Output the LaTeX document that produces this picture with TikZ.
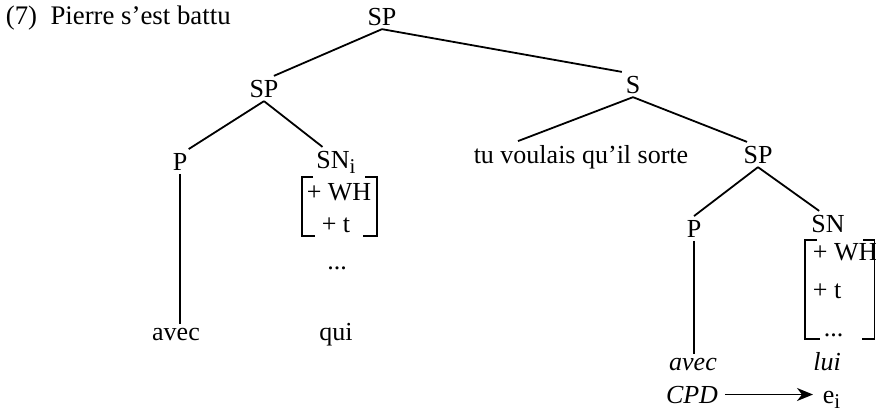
\documentclass[tikz,border=0pt]{standalone}
\usepackage{fontspec}
\setmainfont{Liberation Serif}
\usetikzlibrary{arrows.meta}
\newcommand{\lowsub}[1]{\raisebox{-5pt}{\fontsize{21}{21}\selectfont #1}}

\begin{document}
\begin{tikzpicture}[x=1pt,y=-1pt,line width=1.8pt,
    lbl/.style={inner sep=3pt,anchor=base,font=\fontsize{26}{31}\selectfont},
    it/.style={lbl,font=\fontsize{26}{31}\selectfont\itshape},
    brk/.style={line width=1.8pt}]
  \useasboundingbox (0,0) rectangle (876,415);
  \node[lbl,anchor=base west,font=\fontsize{26.8}{31}\selectfont] (title) at (2,24) {(7)\ \ Pierre s'est battu};
  % top of the tree
  \node[lbl] (sp0) at (382,25) {SP};
  \node[lbl] (sp1) at (264,97) {SP};
  \node[lbl] (s) at (633,93) {S};
  \draw (sp0.south) -- (sp1.52);
  \draw (sp0.south) -- (s.north west);
  % left branch
  \node[lbl] (p1) at (180,170) {P};
  \node[lbl] (sni) at (336,168) {SN\lowsub{i}};
  \draw (sp1.south) -- (p1.55);
  \draw (sp1.south) -- (sni.132);
  \node[lbl] (wh1) at (339,200) {+ WH};
  \node[lbl] (t1) at (336,232) {+ t};
  \draw[brk] (313,177) -- (302,177) -- (302,236) -- (315,236);
  \draw[brk] (365,177) -- (377,177) -- (377,236) -- (363,236);
  \node[lbl] (dots1) at (337,269) {...};
  \node[lbl] (avec1) at (176,340) {avec};
  \node[lbl] (qui) at (336,340) {qui};
  \draw (p1.south) -- (p1.south |- avec1.north);
  % right branch
  \node[lbl] (tu) at (581,163) {tu voulais qu'il sorte};
  \node[lbl] (sp2) at (758,163) {SP};
  \draw (s.south) -- (tu.166);
  \draw (s.south) -- (sp2.131);
  \node[lbl] (p2) at (694,237) {P};
  \node[lbl] (sn2) at (828,232) {SN};
  \draw (sp2.south) -- (p2.north);
  \draw (sp2.south) -- (sn2.125);
  \node[lbl,anchor=base west] (wh2) at (809,260) {+ WH};
  \node[lbl,anchor=base west] (t2) at (809,298) {+ t};
  \node[lbl,anchor=base west] (dots2) at (820,336) {...};
  \draw[brk] (817,240) -- (805,240) -- (805,339) -- (820,339);
  \draw[brk] (863,240) -- (874.5,240) -- (874.5,339) -- (862,339);
  \node[it] (avec2) at (693,370) {avec};
  \node[it] (lui) at (827,370) {lui};
  \draw (p2.south) -- (p2.south |- avec2.north);
  % the arrow under it
  \node[it] (cpd) at (692,403) {CPD};
  \node[lbl,anchor=base west] (ei) at (819,403) {e\lowsub{i}};
  \draw[-{Stealth[length=16pt,width=13pt,inset=5pt]},shorten <=3pt,shorten >=6pt] (cpd.east) -- (cpd.east -| ei.west);
\end{tikzpicture}
\end{document}
